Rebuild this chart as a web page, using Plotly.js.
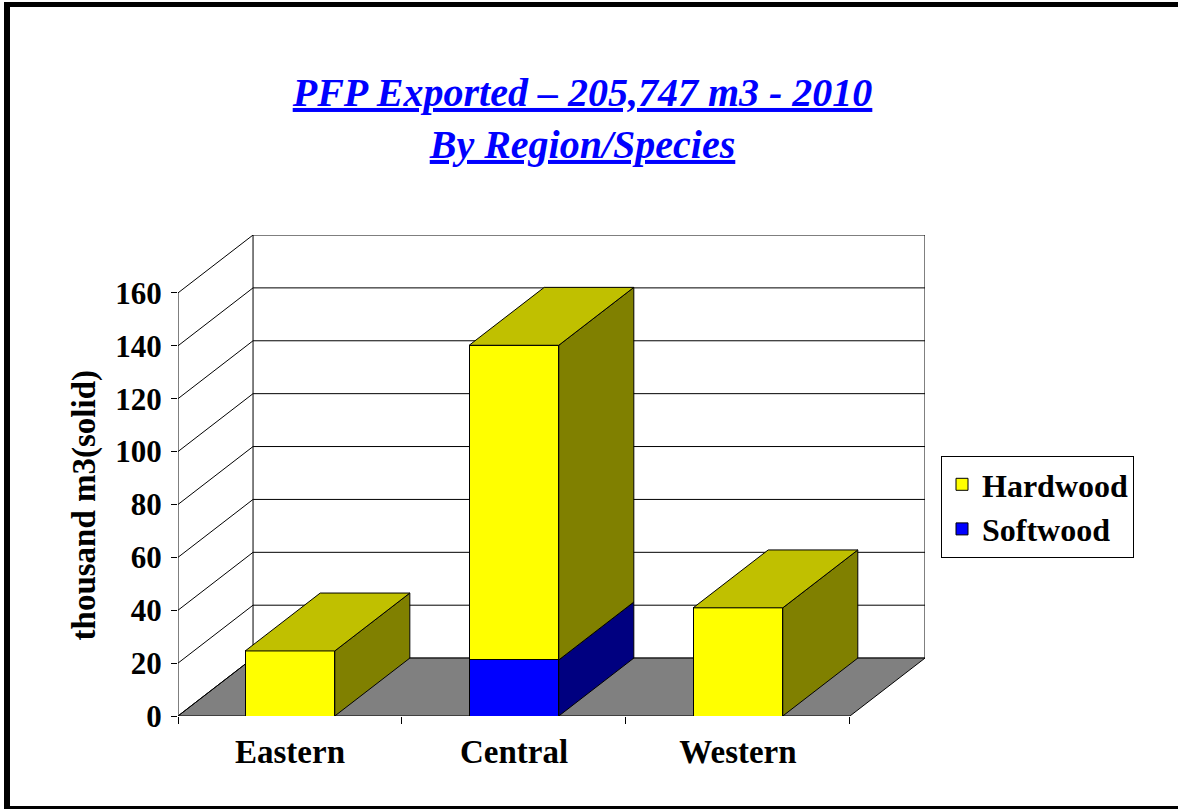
<!DOCTYPE html>
<html><head><meta charset="utf-8">
<script src="https://cdn.plot.ly/plotly-3.0.1.min.js"></script>
<style>
html,body{margin:0;padding:0;background:#fff;overflow:hidden}
#chart{width:1178px;height:809px}
#frame{position:absolute;left:4px;top:2px;width:1200px;height:799px;border-left:6px solid #000;border-top:5px solid #000;border-bottom:3px solid #000;pointer-events:none}
</style></head><body>
<div id="chart"></div><div id="frame"></div>
<script>
// ---- data ----
const regions = ['Eastern', 'Central', 'Western'];
const softwood = [0, 21.2, 0];
const hardwood = [24.6, 119.0, 40.9];
const yTicks = [0, 20, 40, 60, 80, 100, 120, 140, 160];
const titleLines = ['PFP Exported – 205,747 m3 - 2010', 'By Region/Species'];
const yTitle = 'thousand m3(solid)';

// ---- styling / geometry ----
const FONT = 'Liberation Serif, Times New Roman, serif';
const DX = 0.335, DY = 21.9, HALF = 0.2;
const X0 = -0.5, X1 = regions.length - 0.5;
const YMAX = yTicks[yTicks.length - 1];
const C = {
  hardFront: '#FFFF00', hardSide: '#808000', hardTop: '#C0C000',
  softFront: '#0000FF', softSide: '#000080', softTop: '#0000C0',
  floor: '#808080'
};

const shapes = [];
const L = {color: '#000', width: 1};
// back wall
shapes.push({type: 'rect', xref: 'x', yref: 'y', x0: X0 + DX, x1: X1 + DX, y0: DY, y1: YMAX + DY,
  fillcolor: '#fff', line: L, layer: 'below'});
// back-wall gridlines
yTicks.forEach(v => {
  if (v > 0 && v < YMAX) shapes.push({type: 'line', xref: 'x', yref: 'y', x0: X0 + DX, x1: X1 + DX,
    y0: v + DY, y1: v + DY, line: L, layer: 'below'});
});
// floor
shapes.push({type: 'path', xref: 'x', yref: 'y',
  path: `M${X0},0 L${X1},0 L${X1 + DX},${DY} L${X0 + DX},${DY} Z`,
  fillcolor: C.floor, line: L, layer: 'below'});
// left-wall diagonals
yTicks.forEach(v => {
  shapes.push({type: 'line', xref: 'x', yref: 'y', x0: X0, x1: X0 + DX, y0: v, y1: v + DY, line: L, layer: 'below'});
});
// y axis line
shapes.push({type: 'line', xref: 'x', yref: 'y', x0: X0, x1: X0, y0: 0, y1: YMAX, line: L, layer: 'below'});

// 3D faces of bars, computed from stacked data
const series = [
  {vals: softwood, side: C.softSide, top: C.softTop},
  {vals: hardwood, side: C.hardSide, top: C.hardTop}
];
regions.forEach((r, i) => {
  let base = 0;
  const segs = [];
  series.forEach(s => {
    const v = s.vals[i];
    if (v > 0) segs.push({b: base, t: base + v, side: s.side, top: s.top});
    base += v;
  });
  segs.forEach((g, k) => {
    const xr = i + HALF, xl = i - HALF;
    shapes.push({type: 'path', xref: 'x', yref: 'y', layer: 'above',
      path: `M${xr},${g.b} L${xr + DX},${g.b + DY} L${xr + DX},${g.t + DY} L${xr},${g.t} Z`,
      fillcolor: g.side, line: L});
    if (k === segs.length - 1) {
      shapes.push({type: 'path', xref: 'x', yref: 'y', layer: 'above',
        path: `M${xl},${g.t} L${xr},${g.t} L${xr + DX},${g.t + DY} L${xl + DX},${g.t + DY} Z`,
        fillcolor: g.top, line: L});
    }
  });
});

const traces = [
  {type: 'bar', name: 'Softwood', x: regions, y: softwood, width: 2 * HALF,
   marker: {color: C.softFront, line: {color: '#000', width: 1}}, hoverinfo: 'x+y+name'},
  {type: 'bar', name: 'Hardwood', x: regions, y: hardwood, width: 2 * HALF,
   marker: {color: C.hardFront, line: {color: '#000', width: 1}}, hoverinfo: 'x+y+name'}
];

const layout = {
  width: 1178, height: 809,
  margin: {l: 178, r: 253, t: 235, b: 93, pad: 0},
  paper_bgcolor: '#fff', plot_bgcolor: '#fff',
  barmode: 'stack',
  font: {family: FONT, size: 31, color: '#000', weight: 'bold'},
  title: {
    text: titleLines.join('<br>'),
    font: {family: FONT, size: 40, color: '#0000FF', weight: 'bold', style: 'italic', lineposition: 'under'},
    xref: 'container', x: 0.4945, xanchor: 'center',
    yref: 'container', y: 0.869, yanchor: 'top'
  },
  xaxis: {
    type: 'category', range: [X0, X1 + DX], tickson: 'boundaries',
    ticks: 'outside', ticklen: 7, tickcolor: '#000', tickwidth: 1,
    showgrid: false, zeroline: false, showline: false,
    tickfont: {family: FONT, size: 33, color: '#000', weight: 'bold'},
    ticklabelstandoff: 13, fixedrange: true
  },
  yaxis: {
    range: [0, YMAX + DY], tickmode: 'array', tickvals: yTicks,
    ticks: 'outside', ticklen: 6, tickcolor: '#000', tickwidth: 1,
    showgrid: false, zeroline: false, showline: false,
    tickfont: {family: FONT, size: 31, color: '#000', weight: 'bold'},
    ticklabelstandoff: 3, fixedrange: true
  },
  legend: {
    x: (941 - 178) / 747, xanchor: 'left', xref: 'paper',
    y: (716 - 456) / 481, yanchor: 'top', yref: 'paper',
    traceorder: 'reversed', bgcolor: '#fff', bordercolor: '#000', borderwidth: 1,
    font: {family: FONT, size: 32, color: '#000', weight: 'bold'}
  },
  showlegend: true,
  shapes: shapes,
  annotations: [{
    text: yTitle, textangle: -90, xref: 'paper', x: (84 - 178) / 747, xanchor: 'center',
    yref: 'y', y: YMAX / 2, yanchor: 'middle', showarrow: false,
    font: {family: FONT, size: 33, color: '#000', weight: 'bold'}
  }]
};

Plotly.newPlot('chart', traces, layout, {displayModeBar: false, staticPlot: true});
</script>
</body></html>
